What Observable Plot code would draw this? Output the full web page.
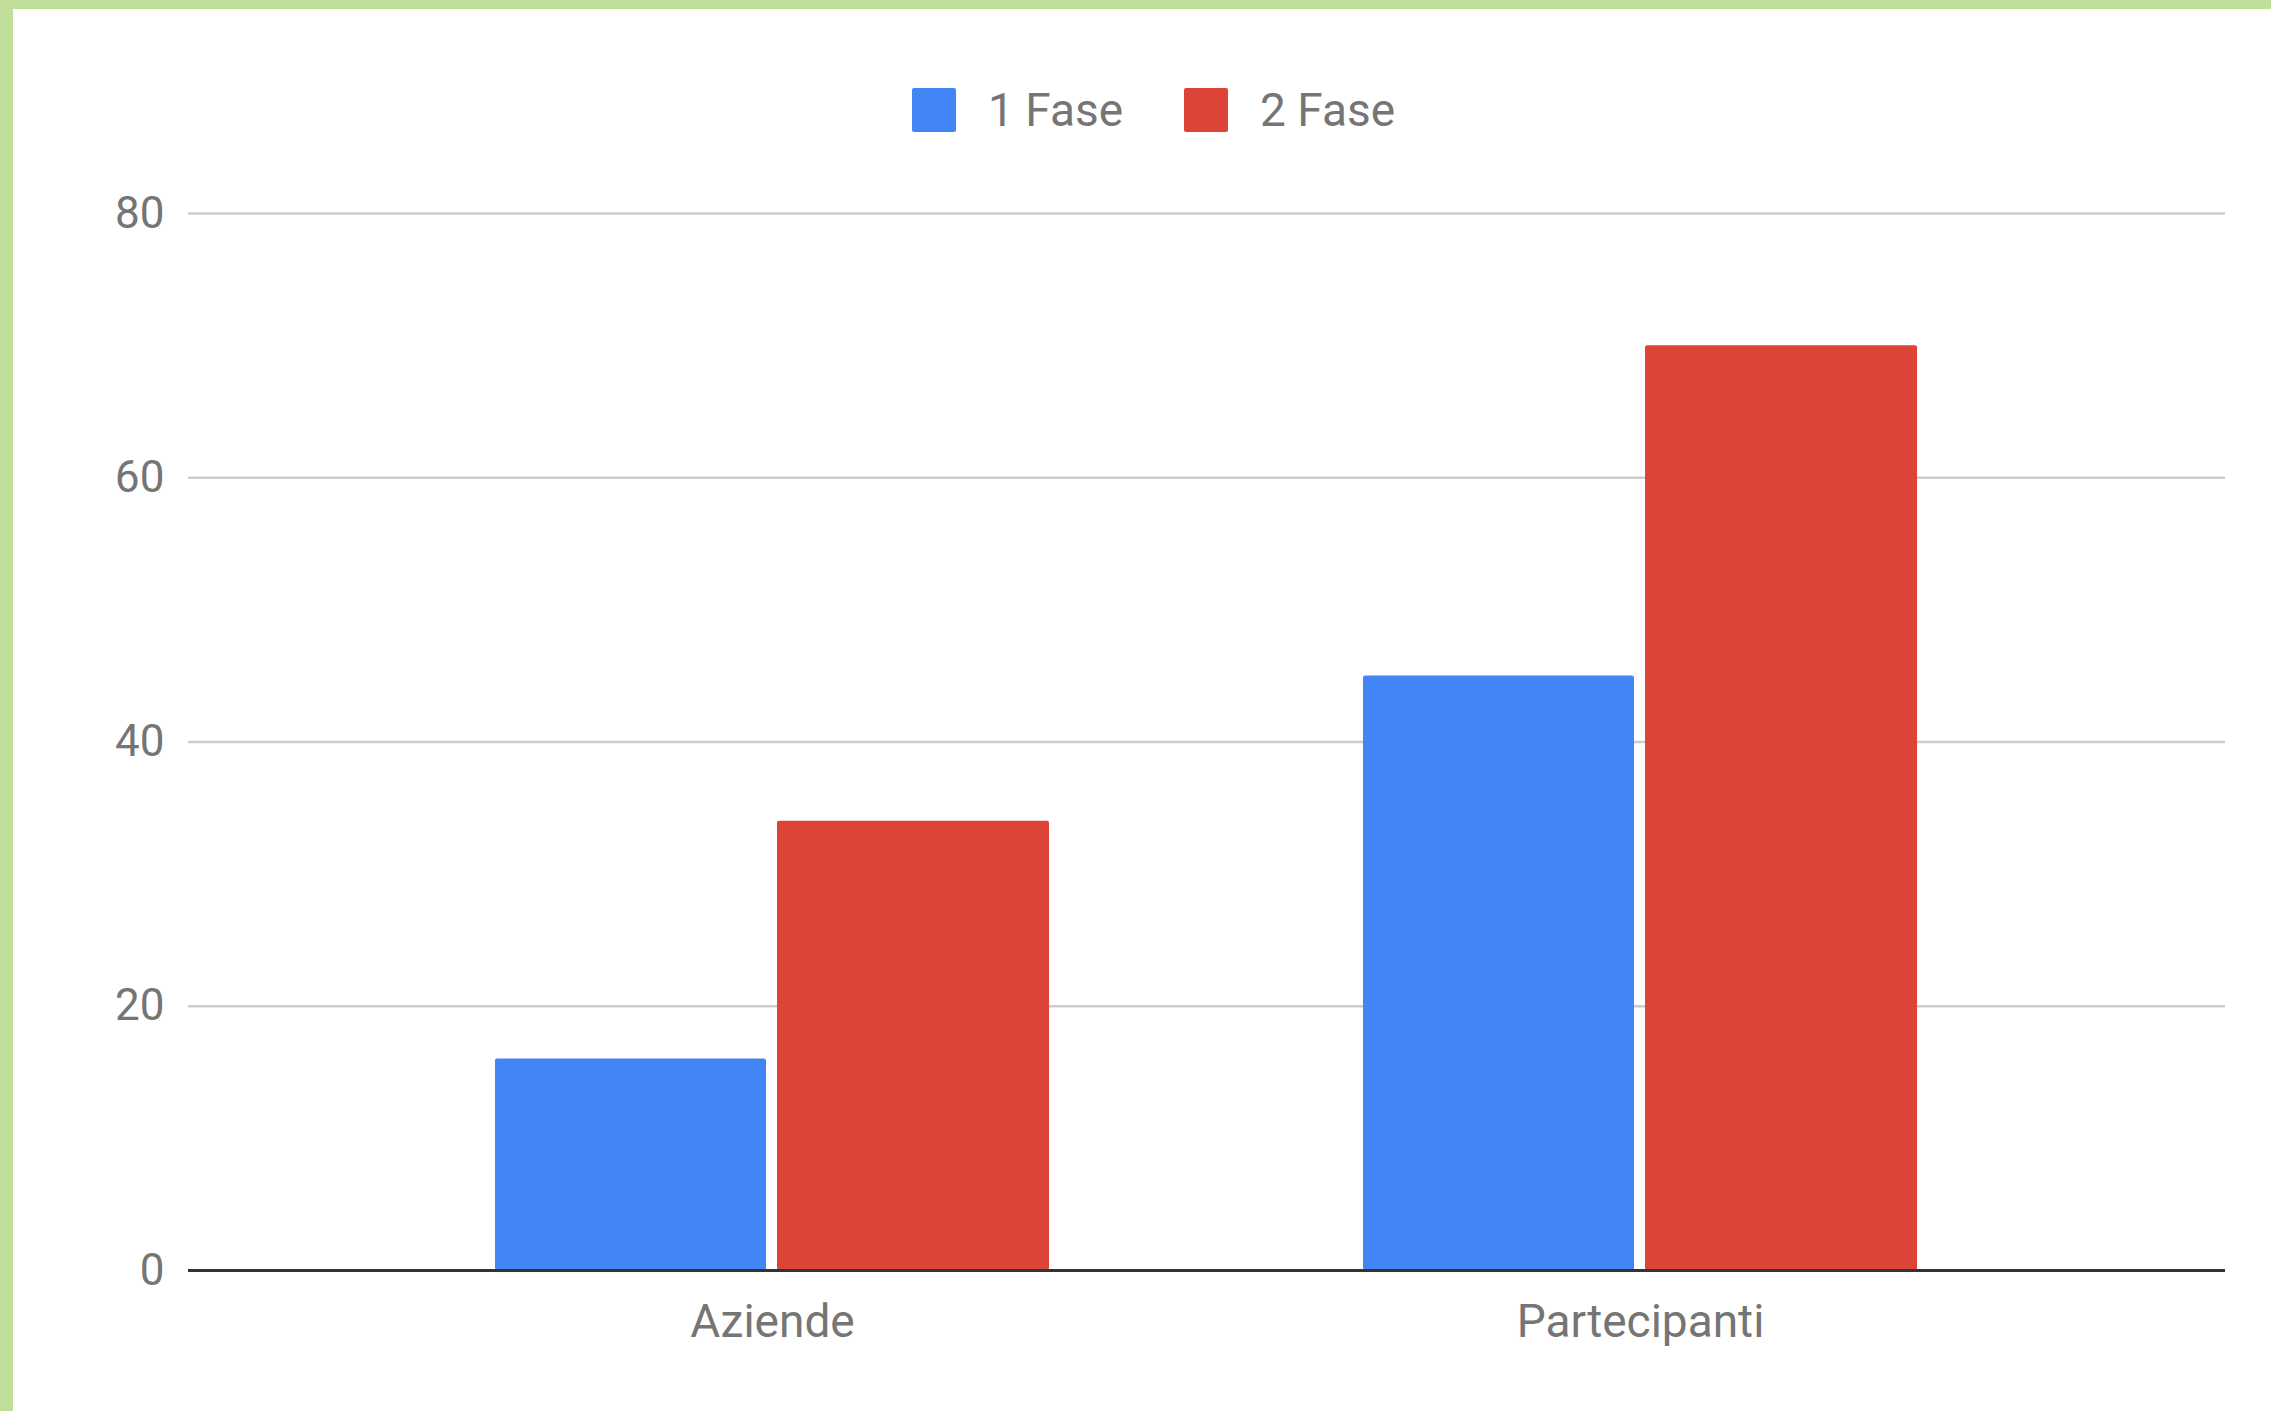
<!DOCTYPE html>
<html>
<head>
<meta charset="utf-8">
<script src="https://cdn.jsdelivr.net/npm/d3@7"></script>
<script src="https://cdn.jsdelivr.net/npm/@observablehq/plot@0.6"></script>
<style>
  html, body { margin: 0; padding: 0; background: #fff; width: 2271px; height: 1411px; overflow: hidden; font-family: Roboto, "Noto Sans", sans-serif; }
  #topbar { position: absolute; left: 0; top: 0; width: 2271px; height: 9px; background: #bfdf9a; z-index: 5; }
  #leftbar { position: absolute; left: 0; top: 0; width: 13px; height: 1411px; background: #bfdf9a; z-index: 5; }
  #legend { position: absolute; left: 912px; top: 88px; display: flex; align-items: center; height: 44px; font-size: 46px; color: #757575; }
  .item { display: flex; align-items: center; margin-right: 61px; }
  .sw { width: 44px; height: 44px; border-radius: 2px; margin-right: 32px; }
  #chart { position: absolute; left: 0; top: 150px; }
</style>
</head>
<body>
<div id="topbar"></div>
<div id="leftbar"></div>
<div id="legend"></div>
<div id="chart"></div>
<script>
const categories = ["Aziende", "Partecipanti"];
const seriesNames = ["1 Fase", "2 Fase"];
const fase1 = [16, 45];
const fase2 = [34, 70];
const yTicks = [0, 20, 40, 60, 80];
const seriesColors = ["#4285f4", "#db4437"];

const rows1 = categories.map((c, i) => ({category: c, series: seriesNames[0], value: fase1[i]}));
const rows2 = categories.map((c, i) => ({category: c, series: seriesNames[1], value: fase2[i]}));

const legend = document.getElementById("legend");
seriesNames.forEach((s, i) => {
  const it = document.createElement("div");
  it.className = "item";
  const sw = document.createElement("div");
  sw.className = "sw";
  sw.style.background = seriesColors[i];
  const t = document.createElement("span");
  t.textContent = s;
  it.appendChild(sw); it.appendChild(t);
  legend.appendChild(it);
});

const chart = Plot.plot({
  width: 2271,
  height: 1261,
  marginLeft: 188,
  marginRight: 46,
  marginTop: 63,
  marginBottom: 141,
  style: {fontFamily: "Roboto, sans-serif", fontSize: "44px", color: "#757575", background: "transparent"},
  x: {domain: categories, paddingInner: 0.3613, paddingOuter: 0.3527, label: null},
  y: {domain: [0, 80], label: null},
  color: {domain: seriesNames, range: seriesColors},
  marks: [
    Plot.ruleY(yTicks.filter(t => t > 0), {stroke: "#cccccc", strokeWidth: 2.5}),
    Plot.barY(rows1, {x: "category", y: "value", fill: "series", insetRight: 283, rx: 2}),
    Plot.barY(rows2, {x: "category", y: "value", fill: "series", insetLeft: 282, rx: 2}),
    Plot.ruleY([0], {stroke: "#333333", strokeWidth: 3}),
    Plot.axisY({ticks: yTicks, tickSize: 0, tickPadding: 24, fontSize: 44, fill: "#757575", label: null}),
    Plot.axisX({tickSize: 0, tickPadding: 34, fontSize: 46, fill: "#757575", label: null})
  ]
});
document.getElementById("chart").appendChild(chart);
</script>
</body>
</html>
